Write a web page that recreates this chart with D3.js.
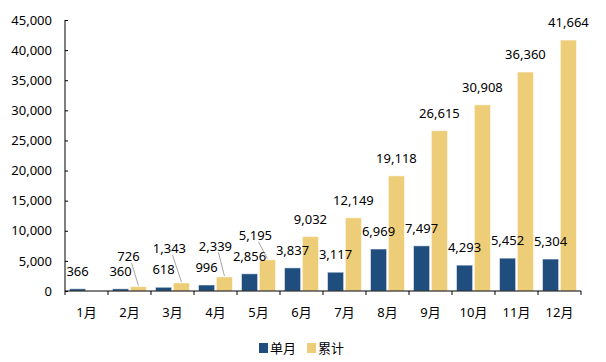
<!DOCTYPE html>
<html>
<head>
<meta charset="utf-8">
<script src="https://cdn.jsdelivr.net/npm/d3@7/dist/d3.min.js"></script>
<style>
  body { margin: 0; background: #fff; }
  svg text { font-family: "Noto Sans", "Noto Sans CJK SC", sans-serif; font-size: 13px; fill: #000; }
</style>
</head>
<body>
<div id="chart"></div>
<script>
var months = ['1月', '2月', '3月', '4月', '5月', '6月', '7月', '8月', '9月', '10月', '11月', '12月'];
var monthly = [366, 360, 618, 996, 2856, 3837, 3117, 6969, 7497, 4293, 5452, 5304];
var cumulative = [null, 726, 1343, 2339, 5195, 9032, 12149, 19118, 26615, 30908, 36360, 41664];
var yTicks = [0, 5000, 10000, 15000, 20000, 25000, 30000, 35000, 40000, 45000];
var seriesNames = ['单月', '累计'];

// label nudges for the crowded cumulative labels (px)
var cumNudge = {1: [-10, -12.5], 2: [-12, -16.5], 3: [-9, -13], 4: [-12, -6.5]};

var W = 606, H = 362;
var margin = {top: 20, left: 65, right: 25, bottom: 71};
var width = W - margin.left - margin.right,
    height = H - margin.top - margin.bottom;
var colors = ['#1f4e7e', '#eecd78'];

var svg = d3.select('#chart').append('svg')
    .attr('width', W).attr('height', H)
    .append('g')
    .attr('transform', 'translate(' + margin.left + ',' + margin.top + ')');

var x = d3.scaleBand().domain(months).range([0, width]);
var xInner = d3.scaleBand().domain([0, 1]).range([4.5, 38.5]).paddingInner(0.1);
var y = d3.scaleLinear().domain([0, 45000]).range([height, 0]);

// y axis
var yAxis = svg.append('g')
    .call(d3.axisLeft(y).tickValues(yTicks).tickSize(-3).tickPadding(13).tickFormat(d3.format(',')));
yAxis.select('.domain').attr('stroke', '#000').attr('d', 'M0,0V' + height);
yAxis.selectAll('.tick line').attr('stroke', '#000');

var series = [monthly, cumulative];
var barLayer = svg.append('g');
var labelLayer = svg.append('g');

series.forEach(function (vals, s) {
    var pts = vals.map((v, i) => ({v: v, i: i})).filter(d => d.v != null);
    barLayer.append('g').selectAll('rect').data(pts).enter().append('rect')
        .attr('x', d => x(months[d.i]) + xInner(s))
        .attr('width', xInner.bandwidth())
        .attr('y', d => y(d.v))
        .attr('height', d => height - y(d.v))
        .attr('fill', colors[s])
        .attr('stroke', '#fff').attr('stroke-opacity', 0.5).attr('stroke-width', 1);

    pts.forEach(function (d) {
        var cx = x(months[d.i]) + xInner(s) + xInner.bandwidth() / 2;
        var cy = y(d.v) - 17.5;
        var nudge = (s === 1 && cumNudge[d.i]) ? cumNudge[d.i] : [0, 0];
        var lx = cx + nudge[0], ly = cy + nudge[1];
        if (s === 1 && cumNudge[d.i]) {
            labelLayer.append('line')
                .attr('x1', lx + 3).attr('y1', ly + 6)
                .attr('x2', cx).attr('y2', y(d.v) - 1)
                .attr('stroke', '#a6a6a6').attr('stroke-width', 1);
        }
        labelLayer.append('text')
            .attr('x', lx).attr('y', ly)
            .attr('dy', '0.35em')
            .attr('text-anchor', 'middle')
            .text(d3.format(',')(d.v));
    });
});

// x axis
var xAxis = svg.append('g')
    .attr('transform', 'translate(0,' + height + ')')
    .call(d3.axisBottom(x).tickSize(0).tickPadding(14));
xAxis.select('.domain').attr('stroke', '#000').attr('d', 'M0,0H' + width);
xAxis.selectAll('.tick text').attr('dy', '0.9em');
xAxis.selectAll('.sep').data(d3.range(months.length + 1)).enter().append('line')
    .attr('x1', d => d * x.bandwidth()).attr('x2', d => d * x.bandwidth())
    .attr('y1', 0).attr('y2', 4).attr('stroke', '#000');

// legend
var legend = svg.append('g').attr('transform', 'translate(0,' + (348 - margin.top) + ')');
var legendX = [194, 242];
seriesNames.forEach(function (name, i) {
    legend.append('rect')
        .attr('x', legendX[i]).attr('y', -5)
        .attr('width', 9).attr('height', 10)
        .attr('fill', colors[i]);
    legend.append('text')
        .attr('x', legendX[i] + 11).attr('y', 0)
        .attr('dy', '0.35em')
        .text(name);
});
</script>
</body>
</html>
